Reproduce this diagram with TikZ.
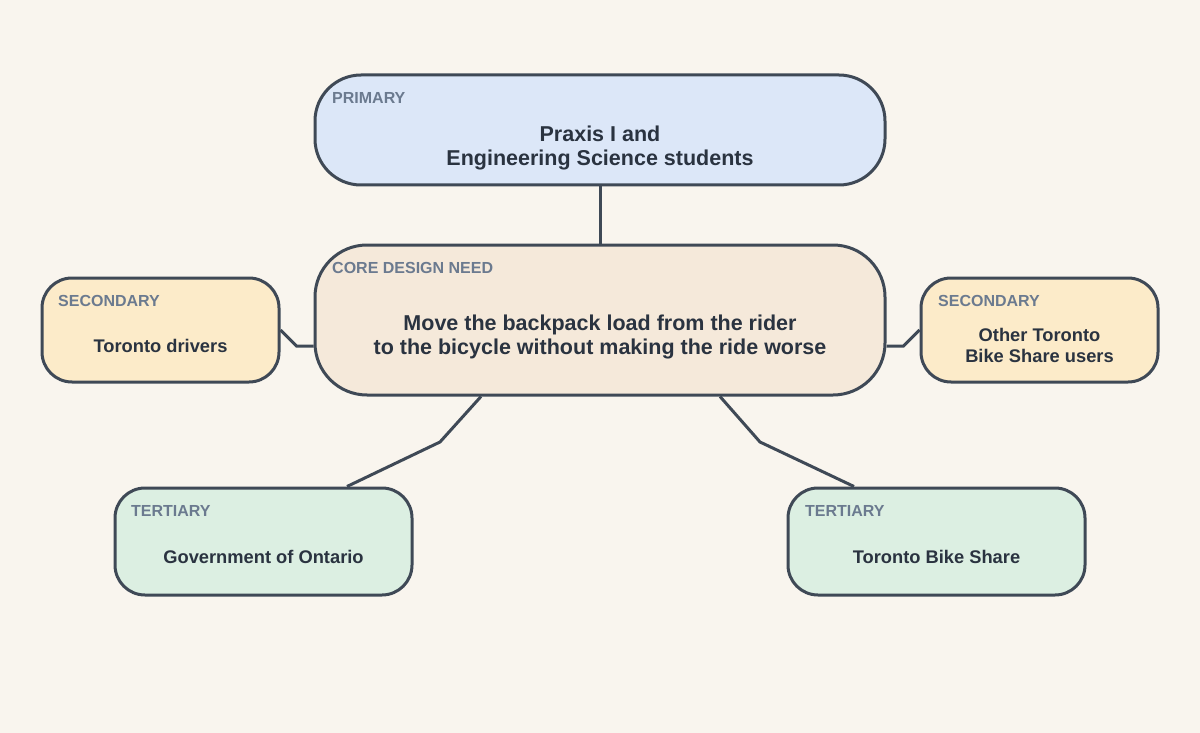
\documentclass[tikz,border=0pt]{standalone}
\usepackage{fontspec}
\setmainfont{Liberation Sans}
\usetikzlibrary{calc,positioning}
\definecolor{PageBg}{HTML}{F9F5EE}
\definecolor{EdgeDark}{HTML}{3F4956}
\definecolor{TagGrey}{HTML}{6B7A8F}
\definecolor{InkDark}{HTML}{2A3340}
\definecolor{PrimaryFill}{HTML}{DCE7F8}
\definecolor{CoreFill}{HTML}{F5E9DA}
\definecolor{SecondFill}{HTML}{FCEBC9}
\definecolor{ThirdFill}{HTML}{DCEFE2}

\begin{document}
\begin{tikzpicture}[
    x=1pt, y=1pt,
    stakebox/.style={draw=EdgeDark, line width=3pt, inner sep=0pt},
    tag/.style={inner sep=0pt, anchor=west, text=TagGrey,
      font=\fontsize{16}{18}\selectfont\bfseries},
    needtext/.style={inner sep=0pt, align=center, text=InkDark,
      font=\fontsize{21.5}{24}\selectfont\bfseries},
    stakename/.style={inner sep=0pt, align=center, text=InkDark,
      font=\fontsize{18.3}{21}\selectfont\bfseries},
    link/.style={draw=EdgeDark, line width=3pt}
  ]
      % page
      \fill[PageBg] (0,0) rectangle (1200,-733);
      \useasboundingbox (0,0) rectangle (1200,-733);

      % boxes
      \node[stakebox, fill=PrimaryFill, rounded corners=46pt,
        minimum width=570pt, minimum height=110pt] (prim) at (600,-130) {};
      \node[stakebox, fill=CoreFill, rounded corners=52pt,
        minimum width=570pt, minimum height=150pt] (core) at (600,-320) {};
      \node[stakebox, fill=SecondFill, rounded corners=30pt,
        minimum width=237pt, minimum height=104pt] (secL) at (160.5,-330) {};
      \node[stakebox, fill=SecondFill, rounded corners=30pt,
        minimum width=237pt, minimum height=104pt] (secR) at (1039.5,-330) {};
      \node[stakebox, fill=ThirdFill, rounded corners=30pt,
        minimum width=297pt, minimum height=107pt] (terL) at (263.5,-541.5) {};
      \node[stakebox, fill=ThirdFill, rounded corners=30pt,
        minimum width=297pt, minimum height=107pt] (terR) at (936.5,-541.5) {};

      % tags
      \node[tag] (primTag) at ($(prim.north west)+(18.5,-24.5)$) {PRIMARY};
      \node[tag] (coreTag) at ($(core.north west)+(18.5,-24.5)$) {CORE DESIGN NEED};
      \node[tag] (secLTag) at ($(secL.north west)+(17.5,-24.5)$) {SECONDARY};
      \node[tag] (secRTag) at ($(secR.north west)+(18.5,-24.5)$) {SECONDARY};
      \node[tag] (terLTag) at ($(terL.north west)+(17.5,-24.5)$) {TERTIARY};
      \node[tag] (terRTag) at ($(terR.north west)+(18.5,-24.5)$) {TERTIARY};

      % texts
      \node[needtext] (primText) at ($(prim.center)+(0,-17.5)$) {Praxis I and\\Engineering Science students};
      \node[needtext] (coreText) at ($(core.center)+(0,-16.5)$) {Move the backpack load from the rider\\to the bicycle without making the ride worse};
      \node[stakename] (secLText) at ($(secL.center)+(0,-16)$) {Toronto drivers};
      \node[stakename] (secRText) at ($(secR.center)+(0,-15.5)$) {Other Toronto\\Bike Share users};
      \node[stakename] (terLText) at ($(terL.center)+(0,-15.5)$) {Government of Ontario};
      \node[stakename] (terRText) at ($(terR.center)+(0,-15.5)$) {Toronto Bike Share};

      % links
      \coordinate (bendL) at (440,-442);
      \coordinate (bendR) at (760,-442);
      \draw[link] (prim.south) -- (core.north);
      \draw[link] (secL.east) -- ($(core.west)+(-17,-26)$) -- ($(core.west)+(0,-26)$);
      \draw[link] (secR.west) -- ($(core.east)+(17,-26)$) -- ($(core.east)+(0,-26)$);
      \draw[link] ($(core.south)+(-119,0)$) -- (bendL) -- ($(terL.north)+(83.5,0)$);
      \draw[link] ($(core.south)+(120,0)$) -- (bendR) -- ($(terR.north)+(-82.5,0)$);
    \end{tikzpicture}
\end{document}
